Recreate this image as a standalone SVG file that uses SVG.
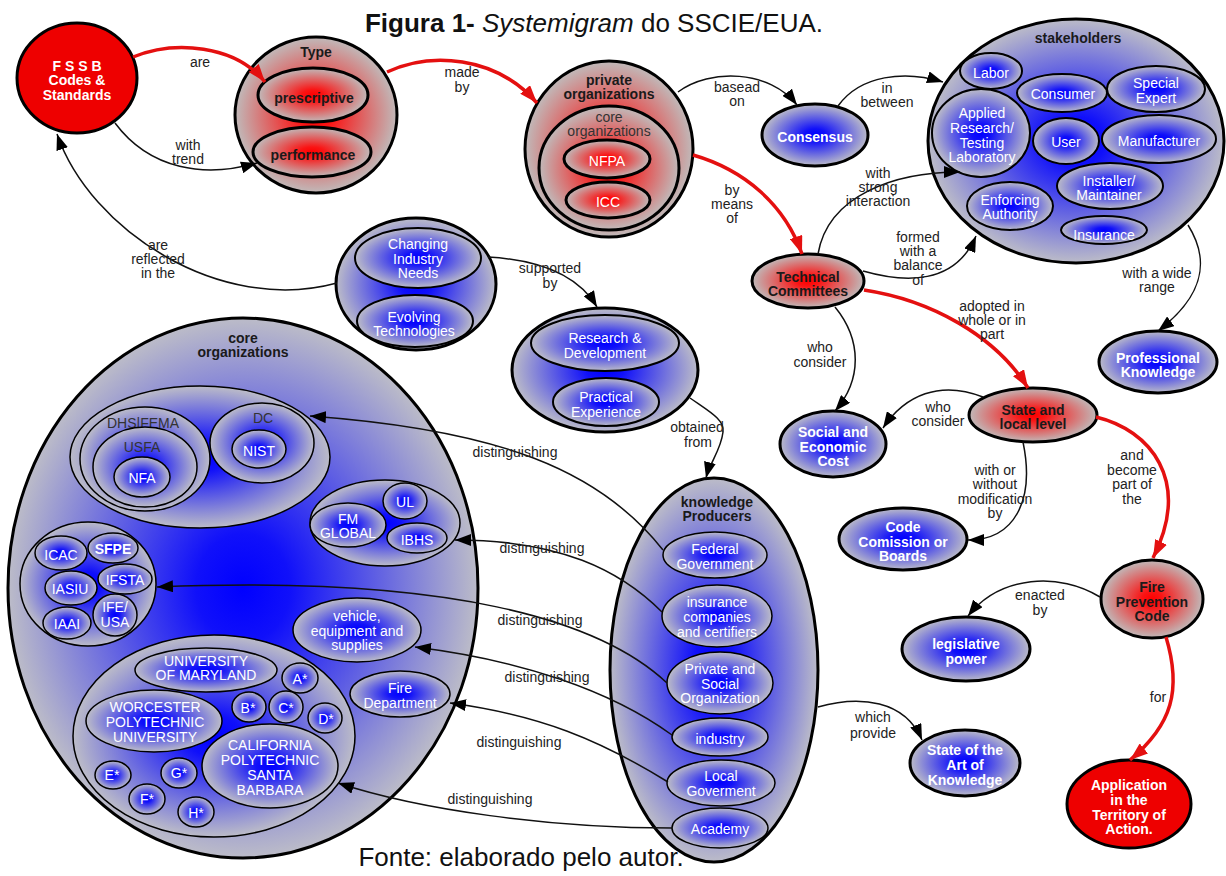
<svg xmlns="http://www.w3.org/2000/svg" width="1226" height="876" viewBox="0 0 1226 876">
<defs>
<style>
text { font-family: 'Liberation Sans', Arial, sans-serif; font-size: 14px; text-anchor: middle; dominant-baseline: central; }
.l { fill: #222; }
.w { fill: #fff; }
.wb { fill: #fff; font-weight: bold; }
.db { fill: #1a1a1a; font-weight: bold; }
.dg { fill: #333; }
.n3 { stroke: #000; stroke-width: 3; }
.n2 { stroke: #000; stroke-width: 2; }
.n1 { stroke: #000; stroke-width: 1.5; }
.b { fill: url(#gb); }
.r { fill: url(#gr); }
.cb { fill: none; stroke: #111; stroke-width: 1.5; marker-end: url(#ab); }
.cr { fill: none; stroke: #e41010; stroke-width: 3.5; marker-end: url(#ar); }
</style>
<radialGradient id="gb">
<stop offset="0" stop-color="#0000ff"/>
<stop offset="0.2" stop-color="#1010fa"/>
<stop offset="1" stop-color="#bcbcc8"/>
</radialGradient>
<radialGradient id="gr">
<stop offset="0" stop-color="#ff0000"/>
<stop offset="0.2" stop-color="#fa1414"/>
<stop offset="1" stop-color="#c0baba"/>
</radialGradient>
<marker id="ab" markerUnits="userSpaceOnUse" markerWidth="16" markerHeight="12" viewBox="0 0 16 12" refX="16" refY="6" orient="auto">
<path d="M0,0 L16,6 L0,12 z" fill="#000"/>
</marker>
<marker id="ar" markerUnits="userSpaceOnUse" markerWidth="18" markerHeight="13" viewBox="0 0 18 13" refX="18" refY="6.5" orient="auto">
<path d="M0,0 L18,6.5 L0,13 z" fill="#e41010"/>
</marker>
</defs>
<rect width="1226" height="876" fill="#fff"/>

<text x="594" y="32" style="font-size:26px; dominant-baseline:auto" fill="#111"><tspan font-weight="bold">Figura 1-</tspan> <tspan font-style="italic">Systemigram</tspan> do SSCIE/EUA.</text>
<text x="521" y="866" style="font-size:26px; dominant-baseline:auto" fill="#111">Fonte: elaborado pelo autor.</text>

<g id="nodes">
<g id="fssb">
<ellipse cx="77" cy="78" rx="60" ry="55" fill="#ee0000" class="n3"/>
<text class="wb"><tspan x="77" y="66">F S S B</tspan><tspan x="77" y="80">Codes &amp;</tspan><tspan x="77" y="95">Standards</tspan></text>
</g>
<g id="type">
<ellipse cx="316" cy="115" rx="81" ry="78" class="r n3"/>
<text class="db" x="316" y="52">Type</text>
<ellipse cx="313" cy="95" rx="55" ry="27" class="r n3"/>
<text class="db" x="314" y="98">prescriptive</text>
<ellipse cx="312" cy="152" rx="59" ry="25" class="r n3"/>
<text class="db" x="313" y="155">performance</text>
</g>
<g id="private">
<ellipse cx="609" cy="149" rx="84" ry="88" class="r n3"/>
<text class="db"><tspan x="609" y="80">private</tspan><tspan x="609" y="94">organizations</tspan></text>
<ellipse cx="609" cy="168" rx="70" ry="62" class="r n3"/>
<text class="dg"><tspan x="609" y="117">core</tspan><tspan x="609" y="131">organizations</tspan></text>
<ellipse cx="607" cy="159" rx="43" ry="19" class="r n3"/>
<text class="w" x="607" y="161">NFPA</text>
<ellipse cx="608" cy="200" rx="42" ry="18" class="r n3"/>
<text class="w" x="608" y="202">ICC</text>
</g>
<g id="consensus">
<ellipse cx="815" cy="135" rx="53" ry="31" class="b n3"/>
<text class="wb" x="815" y="137">Consensus</text>
</g>
<g id="stakeholders">
<ellipse cx="1076" cy="141" rx="148" ry="122" class="b n3"/>
<text class="db" x="1078" y="38">stakeholders</text>
<ellipse cx="991" cy="71" rx="31" ry="18" class="b n2"/>
<text class="w" x="991" y="73">Labor</text>
<ellipse cx="1062" cy="93" rx="45" ry="19" class="b n2"/>
<text class="w" x="1063" y="94">Consumer</text>
<ellipse cx="1156" cy="89" rx="49" ry="23" class="b n2"/>
<text class="w"><tspan x="1156" y="83">Special</tspan><tspan x="1156" y="98">Expert</tspan></text>
<ellipse cx="981" cy="133" rx="49" ry="44" class="b n2"/>
<text class="w"><tspan x="982" y="113">Applied</tspan><tspan x="982" y="128">Research/</tspan><tspan x="982" y="143">Testing</tspan><tspan x="982" y="157">Laboratory</tspan></text>
<ellipse cx="1066" cy="141" rx="33" ry="23" class="b n2"/>
<text class="w" x="1066" y="142">User</text>
<ellipse cx="1159" cy="139" rx="57" ry="24" class="b n2"/>
<text class="w" x="1159" y="141">Manufacturer</text>
<ellipse cx="1110" cy="186" rx="53" ry="23" class="b n2"/>
<text class="w"><tspan x="1109" y="181">Installer/</tspan><tspan x="1109" y="195">Maintainer</tspan></text>
<ellipse cx="1010" cy="206" rx="43" ry="24" class="b n2"/>
<text class="w"><tspan x="1010" y="200">Enforcing</tspan><tspan x="1010" y="214">Authority</tspan></text>
<ellipse cx="1104" cy="230" rx="43" ry="14" class="b n2"/>
<text class="w" x="1104" y="235">Insurance</text>
</g>
<g id="technical">
<ellipse cx="808" cy="281" rx="56" ry="27" class="r n3"/>
<text class="db"><tspan x="808" y="277">Technical</tspan><tspan x="808" y="291">Committees</tspan></text>
</g>
<g id="changing">
<ellipse cx="416" cy="284" rx="80" ry="66" class="b n3"/>
<ellipse cx="418" cy="258" rx="63" ry="30" class="b n2"/>
<text class="w"><tspan x="418" y="244">Changing</tspan><tspan x="418" y="259">Industry</tspan><tspan x="418" y="273">Needs</tspan></text>
<ellipse cx="415" cy="321" rx="58" ry="26" class="b n2"/>
<text class="w"><tspan x="414" y="317">Evolving</tspan><tspan x="414" y="331">Technologies</tspan></text>
</g>
<g id="research">
<ellipse cx="605" cy="370" rx="93" ry="62" class="b n3"/>
<ellipse cx="605" cy="343" rx="74" ry="28" class="b n2"/>
<text class="w"><tspan x="605" y="338">Research &amp;</tspan><tspan x="605" y="353">Development</tspan></text>
<ellipse cx="606" cy="402" rx="53" ry="24" class="b n2"/>
<text class="w"><tspan x="606" y="397">Practical</tspan><tspan x="606" y="412">Experience</tspan></text>
</g>
<g id="core">
<ellipse cx="243" cy="588" rx="235" ry="270" class="b n3"/>
<text class="db"><tspan x="243" y="338">core</tspan><tspan x="243" y="352">organizations</tspan></text>
<ellipse cx="200" cy="457" rx="130" ry="71" class="b n1"/>
<ellipse cx="145" cy="459" rx="65" ry="52" class="b n1"/>
<text class="dg" x="143" y="423">DHS|FEMA</text>
<ellipse cx="145" cy="467" rx="52" ry="40" class="b n1"/>
<text class="dg" x="142" y="447">USFA</text>
<ellipse cx="142" cy="477" rx="28" ry="20" class="b n1"/>
<text class="w" x="142" y="478">NFA</text>
<ellipse cx="262" cy="443" rx="52" ry="40" class="b n1"/>
<text class="dg" x="263" y="418">DC</text>
<ellipse cx="259" cy="449" rx="27" ry="19" class="b n1"/>
<text class="w" x="259" y="451">NIST</text>
<ellipse cx="385" cy="523" rx="75" ry="43" class="b n1"/>
<ellipse cx="348" cy="525" rx="38" ry="22" class="b n1"/>
<text class="w"><tspan x="348" y="519">FM</tspan><tspan x="348" y="533">GLOBAL</tspan></text>
<ellipse cx="405" cy="501" rx="22" ry="18" class="b n1"/>
<text class="w" x="405" y="502">UL</text>
<ellipse cx="417" cy="538" rx="30" ry="15" class="b n1"/>
<text class="w" x="417" y="540">IBHS</text>
<ellipse cx="88" cy="584" rx="68" ry="62" class="b n1"/>
<ellipse cx="61" cy="553" rx="26" ry="17" class="b n1"/>
<text class="w" x="61" y="555">ICAC</text>
<ellipse cx="113" cy="548" rx="25" ry="15" class="b n1"/>
<text class="wb" x="113" y="549">SFPE</text>
<ellipse cx="71" cy="588" rx="26" ry="17" class="b n1"/>
<text class="w" x="70" y="589">IASIU</text>
<ellipse cx="125" cy="579" rx="27" ry="15" class="b n1"/>
<text class="w" x="125" y="580">IFSTA</text>
<ellipse cx="67" cy="623" rx="24" ry="16" class="b n1"/>
<text class="w" x="67" y="624">IAAI</text>
<ellipse cx="115" cy="615" rx="22" ry="21" class="b n1"/>
<text class="w"><tspan x="115" y="607">IFE/</tspan><tspan x="115" y="622">USA</tspan></text>
<ellipse cx="357" cy="630" rx="64" ry="32" class="b n1"/>
<text class="w"><tspan x="357" y="616">vehicle,</tspan><tspan x="357" y="631">equipment and</tspan><tspan x="357" y="645">supplies</tspan></text>
<ellipse cx="400" cy="694" rx="50" ry="23" class="b n1"/>
<text class="w"><tspan x="400" y="688">Fire</tspan><tspan x="400" y="703">Department</tspan></text>
<ellipse cx="214" cy="736" rx="141" ry="101" class="b n1"/>
<ellipse cx="206" cy="670" rx="71" ry="22" class="b n1"/>
<text class="w"><tspan x="206" y="661">UNIVERSITY</tspan><tspan x="206" y="675">OF MARYLAND</tspan></text>
<ellipse cx="300" cy="678" rx="18" ry="15" class="b n1"/>
<text class="w" x="300" y="679">A*</text>
<ellipse cx="249" cy="707" rx="17" ry="15" class="b n1"/>
<text class="w" x="248" y="708">B*</text>
<ellipse cx="286" cy="707" rx="17" ry="16" class="b n1"/>
<text class="w" x="286" y="708">C*</text>
<ellipse cx="325" cy="718" rx="17" ry="15" class="b n1"/>
<text class="w" x="326" y="719">D*</text>
<ellipse cx="154" cy="721" rx="68" ry="31" class="b n1"/>
<text class="w"><tspan x="155" y="707">WORCESTER</tspan><tspan x="155" y="722">POLYTECHNIC</tspan><tspan x="155" y="737">UNIVERSITY</tspan></text>
<ellipse cx="270" cy="766" rx="68" ry="42" class="b n1"/>
<text class="w"><tspan x="270" y="745">CALIFORNIA</tspan><tspan x="270" y="760">POLYTECHNIC</tspan><tspan x="270" y="775">SANTA</tspan><tspan x="270" y="790">BARBARA</tspan></text>
<ellipse cx="113" cy="775" rx="18" ry="14" class="b n1"/>
<text class="w" x="112" y="775">E*</text>
<ellipse cx="147" cy="799" rx="18" ry="15" class="b n1"/>
<text class="w" x="147" y="799">F*</text>
<ellipse cx="179" cy="773" rx="18" ry="15" class="b n1"/>
<text class="w" x="179" y="773">G*</text>
<ellipse cx="196" cy="812" rx="18" ry="15" class="b n1"/>
<text class="w" x="196" y="813">H*</text>
</g>
<g id="knowledge">
<ellipse cx="714" cy="670" rx="104" ry="192" class="b n3"/>
<text class="db"><tspan x="717" y="502">knowledge</tspan><tspan x="717" y="516">Producers</tspan></text>
<ellipse cx="715" cy="555" rx="52" ry="23" class="b n1"/>
<text class="w"><tspan x="715" y="549">Federal</tspan><tspan x="715" y="564">Government</tspan></text>
<ellipse cx="717" cy="616" rx="55" ry="31" class="b n1"/>
<text class="w"><tspan x="717" y="602">insurance</tspan><tspan x="717" y="617">companies</tspan><tspan x="717" y="632">and certifiers</tspan></text>
<ellipse cx="720" cy="683" rx="53" ry="31" class="b n1"/>
<text class="w"><tspan x="720" y="669">Private and</tspan><tspan x="720" y="684">Social</tspan><tspan x="720" y="698">Organization</tspan></text>
<ellipse cx="720" cy="737" rx="48" ry="19" class="b n1"/>
<text class="w" x="720" y="739">industry</text>
<ellipse cx="721" cy="783" rx="54" ry="23" class="b n1"/>
<text class="w"><tspan x="721" y="776">Local</tspan><tspan x="721" y="791">Goverment</tspan></text>
<ellipse cx="720" cy="828" rx="48" ry="20" class="b n1"/>
<text class="w" x="720" y="829">Academy</text>
</g>
<g id="social">
<ellipse cx="833" cy="444" rx="53" ry="33" class="b n3"/>
<text class="wb"><tspan x="833" y="432">Social and</tspan><tspan x="833" y="447">Economic</tspan><tspan x="833" y="461">Cost</tspan></text>
</g>
<g id="statelocal">
<ellipse cx="1033" cy="415" rx="64" ry="27" class="r n3"/>
<text class="db"><tspan x="1033" y="410">State and</tspan><tspan x="1033" y="424">local level</tspan></text>
</g>
<g id="professional">
<ellipse cx="1158" cy="362" rx="59" ry="31" class="b n3"/>
<text class="wb"><tspan x="1158" y="358">Professional</tspan><tspan x="1158" y="372">Knowledge</tspan></text>
</g>
<g id="codecomission">
<ellipse cx="903" cy="539" rx="64" ry="31" class="b n3"/>
<text class="wb"><tspan x="903" y="527">Code</tspan><tspan x="903" y="542">Comission or</tspan><tspan x="903" y="556">Boards</tspan></text>
</g>
<g id="fireprevention">
<ellipse cx="1152" cy="599" rx="51" ry="39" class="r n3"/>
<text class="db"><tspan x="1152" y="587">Fire</tspan><tspan x="1152" y="602">Prevention</tspan><tspan x="1152" y="616">Code</tspan></text>
</g>
<g id="legislative">
<ellipse cx="966" cy="649" rx="64" ry="32" class="b n3"/>
<text class="wb"><tspan x="966" y="644">legislative</tspan><tspan x="966" y="659">power</tspan></text>
</g>
<g id="stateart">
<ellipse cx="965" cy="763" rx="55" ry="33" class="b n3"/>
<text class="wb"><tspan x="965" y="750">State of the</tspan><tspan x="965" y="765">Art of</tspan><tspan x="965" y="780">Knowledge</tspan></text>
</g>
<g id="application">
<ellipse cx="1129" cy="804" rx="62" ry="44" fill="#ee0000" class="n3"/>
<text class="wb"><tspan x="1129" y="785">Application</tspan><tspan x="1129" y="800">in the</tspan><tspan x="1129" y="815">Territory of</tspan><tspan x="1129" y="829">Action.</tspan></text>
</g>
</g>

<g id="connectors">
<path class="cr" d="M133,57 C175,40 235,45 265,82"/>
<text class="l" x="200" y="62">are</text>
<path class="cr" d="M387,72 C430,52 495,55 537,103"/>
<text class="l"><tspan x="462" y="72">made</tspan><tspan x="462" y="87">by</tspan></text>
<path class="cr" d="M693,155 C745,170 785,205 802,254"/>
<text class="l"><tspan x="732" y="190">by</tspan><tspan x="732" y="204">means</tspan><tspan x="732" y="218">of</tspan></text>
<path class="cr" d="M864,290 C930,300 995,335 1028,388"/>
<text class="l"><tspan x="992" y="306">adopted in</tspan><tspan x="992" y="320">whole or in</tspan><tspan x="992" y="334">part</tspan></text>
<path class="cr" d="M1096,417 C1150,430 1192,480 1153,558"/>
<text class="l"><tspan x="1132" y="455">and</tspan><tspan x="1132" y="470">become</tspan><tspan x="1132" y="484">part of</tspan><tspan x="1132" y="499">the</tspan></text>
<path class="cr" d="M1166,637 C1182,690 1172,725 1130,760"/>
<text class="l" x="1158" y="697">for</text>

<path class="cb" d="M115,123 C150,170 205,178 257,163"/>
<text class="l"><tspan x="188" y="145">with</tspan><tspan x="188" y="159">trend</tspan></text>
<path class="cb" d="M337,283 C220,315 90,230 57,134"/>
<text class="l"><tspan x="158" y="245">are</tspan><tspan x="158" y="259">reflected</tspan><tspan x="158" y="273">in the</tspan></text>
<path class="cb" d="M678,92 C710,68 770,70 797,105"/>
<text class="l"><tspan x="737" y="87">basead</tspan><tspan x="737" y="101">on</tspan></text>
<path class="cb" d="M838,106 C860,75 905,70 943,82"/>
<text class="l"><tspan x="887" y="88">in</tspan><tspan x="887" y="102">between</tspan></text>
<path class="cb" d="M818,254 C828,195 895,172 960,172"/>
<text class="l"><tspan x="878" y="173">with</tspan><tspan x="878" y="187">strong</tspan><tspan x="878" y="201">interaction</tspan></text>
<path class="cb" d="M863,271 C905,283 955,285 976,236"/>
<text class="l"><tspan x="918" y="237">formed</tspan><tspan x="918" y="251">with a</tspan><tspan x="918" y="265">balance</tspan><tspan x="918" y="280">of</tspan></text>
<path class="cb" d="M1188,225 C1210,260 1205,295 1158,331"/>
<text class="l"><tspan x="1157" y="273">with a wide</tspan><tspan x="1157" y="287">range</tspan></text>
<path class="cb" d="M835,307 C862,340 862,380 835,411"/>
<text class="l"><tspan x="820" y="347">who</tspan><tspan x="820" y="362">consider</tspan></text>
<path class="cb" d="M983,397 C940,380 905,395 883,428"/>
<text class="l"><tspan x="938" y="407">who</tspan><tspan x="938" y="421">consider</tspan></text>
<path class="cb" d="M1023,442 C1035,500 1015,540 968,540"/>
<text class="l"><tspan x="995" y="470">with or</tspan><tspan x="995" y="484">without</tspan><tspan x="995" y="499">modification</tspan><tspan x="995" y="513">by</tspan></text>
<path class="cb" d="M1100,597 C1060,572 1000,575 968,616"/>
<text class="l"><tspan x="1040" y="595">enacted</tspan><tspan x="1040" y="610">by</tspan></text>
<path class="cb" d="M818,707 C860,695 905,700 922,740"/>
<text class="l"><tspan x="873" y="717">which</tspan><tspan x="873" y="733">provide</tspan></text>
<path class="cb" d="M488,257 C540,260 578,275 597,307"/>
<text class="l"><tspan x="550" y="268">supported</tspan><tspan x="550" y="283">by</tspan></text>
<path class="cb" d="M690,398 C710,412 725,420 723,432 C721,450 710,462 706,478"/>
<text class="l"><tspan x="697" y="427">obtained</tspan><tspan x="698" y="442">from</tspan></text>
<path class="cb" d="M663,550 C600,470 500,430 310,416"/>
<text class="l" x="515" y="452">distinguishing</text>
<path class="cb" d="M662,612 C620,570 560,540 455,540"/>
<text class="l" x="542" y="548">distinguishing</text>
<path class="cb" d="M667,683 C600,620 450,575 157,587"/>
<text class="l" x="540" y="620">distinguishing</text>
<path class="cb" d="M672,735 C610,690 520,660 415,647"/>
<text class="l" x="547" y="677">distinguishing</text>
<path class="cb" d="M668,782 C600,740 540,715 450,703"/>
<text class="l" x="519" y="742">distinguishing</text>
<path class="cb" d="M672,828 C550,828 420,810 338,783"/>
<text class="l" x="490" y="799">distinguishing</text>
</g>
</svg>
